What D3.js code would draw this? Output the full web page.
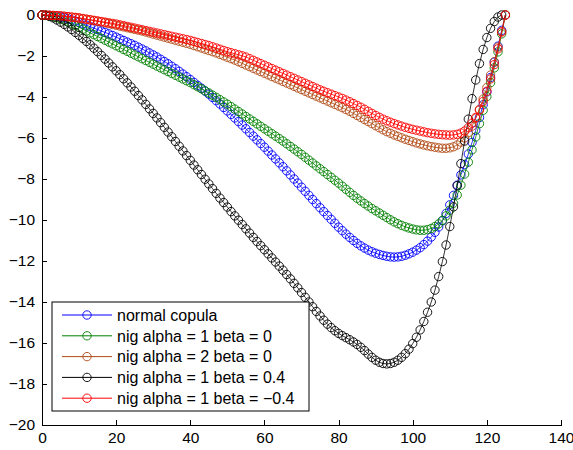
<!DOCTYPE html>
<html>
<head>
<meta charset="utf-8">
<script src="https://cdn.jsdelivr.net/npm/d3@7"></script>
<style>
  body { margin: 0; background: #fff; }
  svg text { font-family: "Liberation Sans", Arial, sans-serif; fill: #000; }
  .axis path, .axis line { stroke: #000; stroke-width: 1; shape-rendering: crispEdges; }
</style>
</head>
<body>
<div id="chart"></div>
<script>
// --- DATOS ---
const seriesNames = [
  "normal copula",
  "nig alpha = 1 beta = 0",
  "nig alpha = 2 beta = 0",
  "nig alpha = 1 beta = 0.4",
  "nig alpha = 1 beta = \u22120.4"
];
const seriesColors = ["#0000ff", "#008000", "#b04a14", "#000000", "#ff0000"];

const xTicks = [0, 20, 40, 60, 80, 100, 120, 140];
const yTicks = [0, -2, -4, -6, -8, -10, -12, -14, -16, -18, -20];

const normalCopula = [
  0, -0.01, -0.02, -0.04, -0.06, -0.09, -0.13, -0.18, -0.24, -0.3,
  -0.36, -0.43, -0.5, -0.57, -0.64, -0.71, -0.78, -0.85, -0.92, -1.0,
  -1.08, -1.16, -1.24, -1.32, -1.4, -1.48, -1.57, -1.66, -1.75, -1.85,
  -1.95, -2.05, -2.16, -2.27, -2.38, -2.5, -2.62, -2.75, -2.88, -3.01,
  -3.15, -3.29, -3.43, -3.57, -3.71, -3.86, -4.02, -4.18, -4.34, -4.51,
  -4.68, -4.85, -5.02, -5.2, -5.37, -5.55, -5.73, -5.91, -6.09, -6.27,
  -6.45, -6.64, -6.83, -7.02, -7.21, -7.4, -7.6, -7.8, -8.0, -8.2,
  -8.4, -8.6, -8.8, -9.0, -9.2, -9.4, -9.59, -9.78, -9.97, -10.16,
  -10.35, -10.52, -10.69, -10.85, -11.0, -11.14, -11.26, -11.37, -11.47, -11.55,
  -11.62, -11.68, -11.73, -11.77, -11.8, -11.81, -11.8, -11.77, -11.72, -11.65,
  -11.57, -11.47, -11.35, -11.2, -11.03, -10.83, -10.6, -10.34, -10.04, -9.68,
  -9.26, -8.8, -8.3, -7.8, -7.3, -6.78, -6.22, -5.62, -5.0, -4.38,
  -3.75, -3.05, -2.3, -1.52, -0.75, 0
];
const nigA1B0 = [
  0, -0.01, -0.04, -0.08, -0.13, -0.19, -0.26, -0.34, -0.42, -0.51,
  -0.6, -0.69, -0.78, -0.87, -0.96, -1.05, -1.14, -1.23, -1.32, -1.41,
  -1.5, -1.59, -1.68, -1.77, -1.86, -1.95, -2.04, -2.13, -2.22, -2.31,
  -2.4, -2.49, -2.58, -2.67, -2.76, -2.85, -2.94, -3.03, -3.12, -3.21,
  -3.3, -3.4, -3.5, -3.6, -3.7, -3.8, -3.91, -4.02, -4.13, -4.24,
  -4.35, -4.47, -4.59, -4.71, -4.83, -4.95, -5.07, -5.19, -5.31, -5.43,
  -5.55, -5.67, -5.79, -5.91, -6.03, -6.15, -6.28, -6.41, -6.54, -6.67,
  -6.8, -6.94, -7.08, -7.22, -7.36, -7.5, -7.64, -7.78, -7.92, -8.06,
  -8.2, -8.35, -8.5, -8.65, -8.8, -8.94, -9.07, -9.2, -9.32, -9.44,
  -9.55, -9.66, -9.77, -9.88, -9.99, -10.09, -10.18, -10.26, -10.33, -10.39,
  -10.44, -10.48, -10.5, -10.5, -10.47, -10.41, -10.32, -10.19, -10.02, -9.8,
  -9.52, -9.18, -8.78, -8.3, -7.76, -7.18, -6.58, -5.95, -5.3, -4.65,
  -3.98, -3.3, -2.58, -1.8, -0.92, 0
];
const nigA2B0 = [
  0, -0.01, -0.02, -0.03, -0.04, -0.05, -0.07, -0.09, -0.11, -0.13,
  -0.16, -0.19, -0.22, -0.25, -0.28, -0.31, -0.34, -0.38, -0.42, -0.46,
  -0.5, -0.54, -0.58, -0.62, -0.66, -0.7, -0.74, -0.78, -0.83, -0.88,
  -0.93, -0.98, -1.03, -1.08, -1.13, -1.18, -1.23, -1.28, -1.33, -1.38,
  -1.43, -1.49, -1.55, -1.61, -1.67, -1.73, -1.79, -1.85, -1.92, -1.99,
  -2.06, -2.13, -2.2, -2.28, -2.36, -2.44, -2.52, -2.6, -2.68, -2.76,
  -2.84, -2.92, -3.0, -3.08, -3.16, -3.24, -3.32, -3.4, -3.48, -3.56,
  -3.64, -3.72, -3.8, -3.88, -3.96, -4.04, -4.12, -4.2, -4.28, -4.36,
  -4.44, -4.52, -4.61, -4.7, -4.8, -4.9, -5.0, -5.1, -5.2, -5.3,
  -5.4, -5.5, -5.6, -5.69, -5.77, -5.85, -5.92, -5.99, -6.06, -6.12,
  -6.18, -6.24, -6.29, -6.34, -6.38, -6.42, -6.45, -6.48, -6.5, -6.5,
  -6.48, -6.43, -6.34, -6.2, -6.0, -5.74, -5.42, -5.04, -4.6, -4.1,
  -3.54, -2.93, -2.28, -1.57, -0.8, 0
];
const nigA1Bpos = [
  0, -0.02, -0.07, -0.14, -0.24, -0.35, -0.46, -0.58, -0.71, -0.85,
  -0.99, -1.14, -1.29, -1.45, -1.62, -1.79, -1.97, -2.15, -2.34, -2.53,
  -2.72, -2.91, -3.11, -3.31, -3.51, -3.72, -3.93, -4.14, -4.36, -4.58,
  -4.8, -5.02, -5.25, -5.48, -5.71, -5.94, -6.17, -6.4, -6.63, -6.86,
  -7.09, -7.32, -7.55, -7.78, -8.01, -8.24, -8.47, -8.7, -8.93, -9.15,
  -9.37, -9.59, -9.8, -10.01, -10.22, -10.43, -10.64, -10.85, -11.05, -11.25,
  -11.45, -11.65, -11.85, -12.05, -12.25, -12.45, -12.66, -12.87, -13.09, -13.31,
  -13.54, -13.77, -14.0, -14.23, -14.46, -14.68, -14.89, -15.08, -15.25, -15.4,
  -15.53, -15.64, -15.74, -15.84, -15.95, -16.07, -16.21, -16.37, -16.54, -16.7,
  -16.84, -16.94, -17.0, -17.02, -17.0, -16.94, -16.84, -16.7, -16.52, -16.3,
  -16.03, -15.72, -15.36, -14.95, -14.5, -14.0, -13.42, -12.76, -12.03, -11.22,
  -10.32, -9.36, -8.33, -7.25, -6.15, -5.08, -4.08, -3.17, -2.37, -1.68,
  -1.1, -0.65, -0.32, -0.1, 0
];
const nigA1Bneg = [
  0, 0, -0.01, -0.02, -0.03, -0.04, -0.06, -0.08, -0.1, -0.12,
  -0.14, -0.17, -0.2, -0.23, -0.26, -0.29, -0.32, -0.35, -0.38, -0.41,
  -0.44, -0.48, -0.52, -0.56, -0.6, -0.64, -0.68, -0.72, -0.76, -0.8,
  -0.84, -0.88, -0.92, -0.96, -1.0, -1.04, -1.08, -1.12, -1.16, -1.2,
  -1.24, -1.29, -1.34, -1.39, -1.44, -1.49, -1.55, -1.61, -1.67, -1.73,
  -1.79, -1.84, -1.89, -1.94, -1.99, -2.05, -2.13, -2.21, -2.29, -2.37,
  -2.45, -2.53, -2.61, -2.69, -2.77, -2.85, -2.93, -3.01, -3.09, -3.17,
  -3.25, -3.33, -3.41, -3.49, -3.57, -3.65, -3.72, -3.79, -3.86, -3.93,
  -4.0, -4.07, -4.15, -4.23, -4.32, -4.41, -4.5, -4.6, -4.7, -4.8,
  -4.9, -4.99, -5.08, -5.16, -5.23, -5.3, -5.36, -5.42, -5.48, -5.53,
  -5.58, -5.62, -5.66, -5.7, -5.74, -5.77, -5.8, -5.82, -5.84, -5.85,
  -5.86, -5.85, -5.82, -5.76, -5.66, -5.5, -5.28, -5.0, -4.64, -4.22,
  -3.72, -3.12, -2.42, -1.65, -0.83, 0
];

const seriesValues = [normalCopula, nigA1B0, nigA2B0, nigA1Bpos, nigA1Bneg];

// --- CONFIGURACIÓN ---
const W = 573, H = 450;
const margin = { top: 15, right: 12, bottom: 25, left: 42 };
const width = W - margin.left - margin.right;
const height = H - margin.top - margin.bottom;

const svg = d3.select("#chart").append("svg")
  .attr("width", W).attr("height", H);

const g = svg.append("g").attr("transform", `translate(${margin.left},${margin.top})`);

const x = d3.scaleLinear().domain([0, 140]).range([0, width]);
const y = d3.scaleLinear().domain([-20, 0]).range([height, 0]);

// --- EJES ---
g.append("g").attr("class", "axis")
  .attr("transform", `translate(0,${height})`)
  .call(d3.axisBottom(x).tickValues(xTicks).tickSizeInner(-5).tickSizeOuter(0).tickPadding(7));

g.append("g").attr("class", "axis")
  .call(d3.axisLeft(y).tickValues(yTicks).tickSizeInner(-5).tickSizeOuter(0).tickPadding(7));

g.selectAll(".axis text").style("font-size", "15.5px")
  .style("font-family", "'Liberation Sans', Arial, sans-serif");

// --- SERIES ---
const line = d3.line().x((d, i) => x(i)).y(d => y(d));

seriesValues.forEach((vals, s) => {
  const grp = g.append("g");
  grp.append("path").datum(vals)
    .attr("d", line)
    .attr("fill", "none")
    .attr("stroke", seriesColors[s])
    .attr("stroke-width", 0.8);
  grp.selectAll("circle").data(vals).enter().append("circle")
    .attr("cx", (d, i) => x(i))
    .attr("cy", d => y(d))
    .attr("r", 4.2)
    .attr("fill", "none")
    .attr("stroke", seriesColors[s])
    .attr("stroke-width", 0.9);
});

// --- LEYENDA ---
const legend = g.append("g").attr("transform", `translate(${52 - margin.left},${302 - margin.top})`);
legend.append("rect")
  .attr("width", 257).attr("height", 109)
  .attr("fill", "#fff").attr("stroke", "#000").attr("stroke-width", 1);

seriesNames.forEach((name, i) => {
  const row = legend.append("g").attr("transform", `translate(0,${13 + i * 20.8})`);
  row.append("line").attr("x1", 10).attr("x2", 60).attr("y1", 0).attr("y2", 0)
    .attr("stroke", seriesColors[i]).attr("stroke-width", 1);
  row.append("circle").attr("cx", 35).attr("cy", 0).attr("r", 4.2)
    .attr("fill", "none").attr("stroke", seriesColors[i]).attr("stroke-width", 0.9);
  row.append("text").attr("x", 65).attr("y", 0).attr("dy", "0.36em")
    .style("font-size", "16px").text(name);
});
</script>
</body>
</html>
